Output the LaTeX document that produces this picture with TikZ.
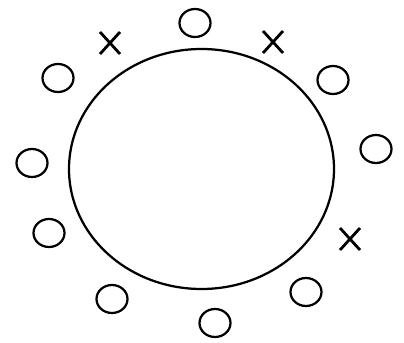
\documentclass[tikz,border=0pt]{standalone}
\usepackage{tikz}
\usetikzlibrary{calc}

\tikzset{
  seat/.style={line width=1.6pt},
  cross/.style={line width=2pt}
}

\begin{document}
\begin{tikzpicture}[x=0.025cm, y=-0.025cm]
  \useasboundingbox (0,0) rectangle (404,343);

  % Big table in the middle
  \draw[line width=1.6pt] (201.5,169) ellipse (132.5 and 120);

  % Small seats around the table
  \foreach \px/\py in {195/23, 58/78, 333/80, 376/149, 32/163, 49/233, 112/299, 306/292, 215/323} {
    \draw[seat] (\px,\py) ellipse (15.5 and 14);
  }

  % Crossed places
  \foreach \px/\py in {110/43, 273/42, 350/239} {
    \draw[cross] (\px-10,\py-11) -- (\px+10,\py+11);
    \draw[cross] (\px-10,\py+11) -- (\px+10,\py-11);
  }
\end{tikzpicture}
\end{document}
